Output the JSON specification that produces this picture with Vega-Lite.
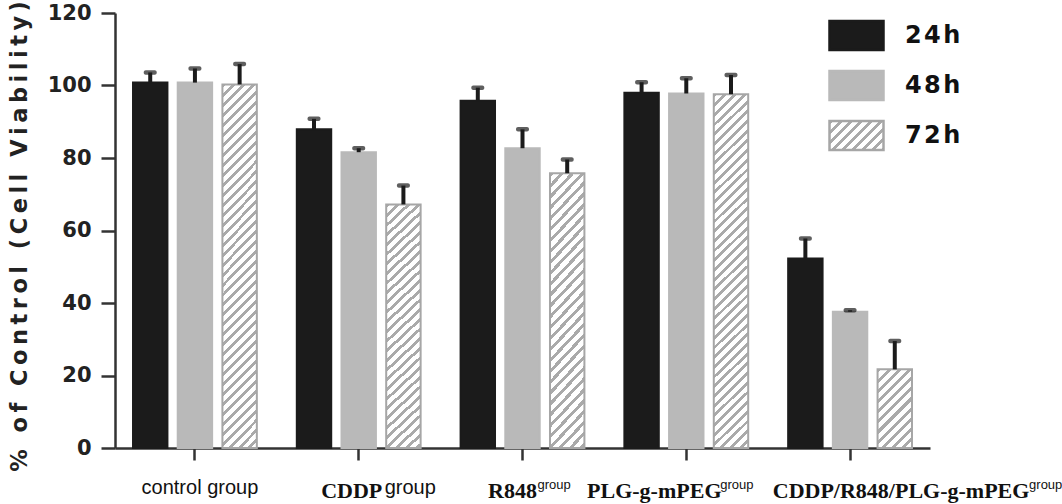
{
"$schema":"https://vega.github.io/schema/vega-lite/v6.json",
"width":815,"height":435,
"autosize":{"type":"none"},
"padding":{"left":115,"top":13,"right":132,"bottom":56},
"config":{"view":{"stroke":null},"axis":{"grid":false}},
"data":{"values":[
{"group":"control group","time":"24h","value":100.8,"upper":103.6},
{"group":"control group","time":"48h","value":100.8,"upper":104.7},
{"group":"control group","time":"72h","value":100.3,"upper":105.9},
{"group":"CDDP","time":"24h","value":87.9,"upper":90.8},
{"group":"CDDP","time":"48h","value":81.6,"upper":82.7},
{"group":"CDDP","time":"72h","value":67.2,"upper":72.4},
{"group":"R848","time":"24h","value":95.8,"upper":99.4},
{"group":"R848","time":"48h","value":82.7,"upper":87.9},
{"group":"R848","time":"72h","value":75.8,"upper":79.6},
{"group":"PLG-g-mPEG","time":"24h","value":98.0,"upper":100.9},
{"group":"PLG-g-mPEG","time":"48h","value":97.8,"upper":102.0},
{"group":"PLG-g-mPEG","time":"72h","value":97.6,"upper":102.9},
{"group":"CDDP/R848/PLG-g-mPEG","time":"24h","value":52.3,"upper":57.8},
{"group":"CDDP/R848/PLG-g-mPEG","time":"48h","value":37.6,"upper":38.0},
{"group":"CDDP/R848/PLG-g-mPEG","time":"72h","value":21.7,"upper":29.5}
]},
"resolve":{"axis":{"x":"independent"}},
"layer":[
{"mark":{"type":"bar","strokeWidth":2},
"encoding":{
"x":{"field":"group","type":"nominal","scale":{"domain":["control group","CDDP","R848","PLG-g-mPEG","CDDP/R848/PLG-g-mPEG"],"paddingInner":0.244,"paddingOuter":0.11},
"axis":{"orient":"bottom","title":null,"labelColor":"#111","labelAngle":0,"labelBaseline":"alphabetic","labelLimit":0,"labelOverlap":false,"labelFlush":false,"tickSize":12,"tickWidth":2.5,"tickColor":"#333","domainWidth":2.5,"domainColor":"#333",
"labelPadding":{"condition":{"test":"datum.value === 'control group'","value":33},"value":37},
"labelFont":{"condition":{"test":"datum.value === 'control group'","value":"Liberation Sans"},"value":"Liberation Serif"},
"labelFontWeight":{"condition":{"test":"datum.value === 'control group'","value":"normal"},"value":"bold"},
"labelFontSize":{"condition":{"test":"datum.value === 'control group'","value":20},"value":22},
"labelOffset":{"condition":[{"test":"datum.value === 'control group'","value":5},{"test":"datum.value === 'CDDP'","value":-7},{"test":"datum.value === 'R848'","value":-10},{"test":"datum.value === 'PLG-g-mPEG'","value":-32}],"value":51}}},
"xOffset":{"field":"time","type":"nominal","scale":{"domain":["24h","48h","72h"],"paddingInner":0.23,"paddingOuter":0}},
"y":{"field":"value","type":"quantitative","title":"%\u2009 \u2009o\u2009f\u2009 \u2009C\u2009o\u2009n\u2009t\u2009r\u2009o\u2009l\u2009 \u2009(\u2009C\u2009e\u2009l\u2009l\u2009 \u2009V\u2009i\u2009a\u2009b\u2009i\u2009l\u2009i\u2009t\u2009y\u2009)","scale":{"domain":[0,120],"nice":false},
"axis":{"values":[0,20,40,60,80,100,120],"labelFont":"DejaVu Sans","labelFontSize":21,"labelFontWeight":"bold","labelColor":"#222","labelPadding":10,"tickSize":14,"tickWidth":2.5,"tickColor":"#333","domainWidth":2.5,"domainColor":"#333","titleFont":"DejaVu Sans","titleFontSize":22.5,"titleFontWeight":"bold","titleColor":"#222","titleAngle":-90,"titleX":-89,"titleY":223,"titleAlign":"center","titleBaseline":"alphabetic"}},
"stroke":{"field":"time","type":"nominal","scale":{"domain":["24h","48h","72h"],"range":["#1b1b1b","#b9b9b9","#a6a6a6"]}},
"color":{
"condition":[
{"test":"datum.time === '72h' && (datum.group === 'control group' || datum.group === 'PLG-g-mPEG')","value":{"gradient":"linear","x1":0,"y1":0,"x2":0.1041,"y2":1.0859,"stops":[
{"offset":0,"color":"#aaa"},{"offset":0.01,"color":"#aaa"},{"offset":0.01,"color":"#fff"},{"offset":0.025,"color":"#fff"},
{"offset":0.025,"color":"#aaa"},{"offset":0.035,"color":"#aaa"},{"offset":0.035,"color":"#fff"},{"offset":0.05,"color":"#fff"},
{"offset":0.05,"color":"#aaa"},{"offset":0.06,"color":"#aaa"},{"offset":0.06,"color":"#fff"},{"offset":0.075,"color":"#fff"},
{"offset":0.075,"color":"#aaa"},{"offset":0.085,"color":"#aaa"},{"offset":0.085,"color":"#fff"},{"offset":0.1,"color":"#fff"},
{"offset":0.1,"color":"#aaa"},{"offset":0.11,"color":"#aaa"},{"offset":0.11,"color":"#fff"},{"offset":0.125,"color":"#fff"},
{"offset":0.125,"color":"#aaa"},{"offset":0.135,"color":"#aaa"},{"offset":0.135,"color":"#fff"},{"offset":0.15,"color":"#fff"},
{"offset":0.15,"color":"#aaa"},{"offset":0.16,"color":"#aaa"},{"offset":0.16,"color":"#fff"},{"offset":0.175,"color":"#fff"},
{"offset":0.175,"color":"#aaa"},{"offset":0.185,"color":"#aaa"},{"offset":0.185,"color":"#fff"},{"offset":0.2,"color":"#fff"},
{"offset":0.2,"color":"#aaa"},{"offset":0.21,"color":"#aaa"},{"offset":0.21,"color":"#fff"},{"offset":0.225,"color":"#fff"},
{"offset":0.225,"color":"#aaa"},{"offset":0.235,"color":"#aaa"},{"offset":0.235,"color":"#fff"},{"offset":0.25,"color":"#fff"},
{"offset":0.25,"color":"#aaa"},{"offset":0.26,"color":"#aaa"},{"offset":0.26,"color":"#fff"},{"offset":0.275,"color":"#fff"},
{"offset":0.275,"color":"#aaa"},{"offset":0.285,"color":"#aaa"},{"offset":0.285,"color":"#fff"},{"offset":0.3,"color":"#fff"},
{"offset":0.3,"color":"#aaa"},{"offset":0.31,"color":"#aaa"},{"offset":0.31,"color":"#fff"},{"offset":0.325,"color":"#fff"},
{"offset":0.325,"color":"#aaa"},{"offset":0.335,"color":"#aaa"},{"offset":0.335,"color":"#fff"},{"offset":0.35,"color":"#fff"},
{"offset":0.35,"color":"#aaa"},{"offset":0.36,"color":"#aaa"},{"offset":0.36,"color":"#fff"},{"offset":0.375,"color":"#fff"},
{"offset":0.375,"color":"#aaa"},{"offset":0.385,"color":"#aaa"},{"offset":0.385,"color":"#fff"},{"offset":0.4,"color":"#fff"},
{"offset":0.4,"color":"#aaa"},{"offset":0.41,"color":"#aaa"},{"offset":0.41,"color":"#fff"},{"offset":0.425,"color":"#fff"},
{"offset":0.425,"color":"#aaa"},{"offset":0.435,"color":"#aaa"},{"offset":0.435,"color":"#fff"},{"offset":0.45,"color":"#fff"},
{"offset":0.45,"color":"#aaa"},{"offset":0.46,"color":"#aaa"},{"offset":0.46,"color":"#fff"},{"offset":0.475,"color":"#fff"},
{"offset":0.475,"color":"#aaa"},{"offset":0.485,"color":"#aaa"},{"offset":0.485,"color":"#fff"},{"offset":0.5,"color":"#fff"},
{"offset":0.5,"color":"#aaa"},{"offset":0.51,"color":"#aaa"},{"offset":0.51,"color":"#fff"},{"offset":0.525,"color":"#fff"},
{"offset":0.525,"color":"#aaa"},{"offset":0.535,"color":"#aaa"},{"offset":0.535,"color":"#fff"},{"offset":0.55,"color":"#fff"},
{"offset":0.55,"color":"#aaa"},{"offset":0.56,"color":"#aaa"},{"offset":0.56,"color":"#fff"},{"offset":0.575,"color":"#fff"},
{"offset":0.575,"color":"#aaa"},{"offset":0.585,"color":"#aaa"},{"offset":0.585,"color":"#fff"},{"offset":0.6,"color":"#fff"},
{"offset":0.6,"color":"#aaa"},{"offset":0.61,"color":"#aaa"},{"offset":0.61,"color":"#fff"},{"offset":0.625,"color":"#fff"},
{"offset":0.625,"color":"#aaa"},{"offset":0.635,"color":"#aaa"},{"offset":0.635,"color":"#fff"},{"offset":0.65,"color":"#fff"},
{"offset":0.65,"color":"#aaa"},{"offset":0.66,"color":"#aaa"},{"offset":0.66,"color":"#fff"},{"offset":0.675,"color":"#fff"},
{"offset":0.675,"color":"#aaa"},{"offset":0.685,"color":"#aaa"},{"offset":0.685,"color":"#fff"},{"offset":0.7,"color":"#fff"},
{"offset":0.7,"color":"#aaa"},{"offset":0.71,"color":"#aaa"},{"offset":0.71,"color":"#fff"},{"offset":0.725,"color":"#fff"},
{"offset":0.725,"color":"#aaa"},{"offset":0.735,"color":"#aaa"},{"offset":0.735,"color":"#fff"},{"offset":0.75,"color":"#fff"},
{"offset":0.75,"color":"#aaa"},{"offset":0.76,"color":"#aaa"},{"offset":0.76,"color":"#fff"},{"offset":0.775,"color":"#fff"},
{"offset":0.775,"color":"#aaa"},{"offset":0.785,"color":"#aaa"},{"offset":0.785,"color":"#fff"},{"offset":0.8,"color":"#fff"},
{"offset":0.8,"color":"#aaa"},{"offset":0.81,"color":"#aaa"},{"offset":0.81,"color":"#fff"},{"offset":0.825,"color":"#fff"},
{"offset":0.825,"color":"#aaa"},{"offset":0.835,"color":"#aaa"},{"offset":0.835,"color":"#fff"},{"offset":0.85,"color":"#fff"},
{"offset":0.85,"color":"#aaa"},{"offset":0.86,"color":"#aaa"},{"offset":0.86,"color":"#fff"},{"offset":0.875,"color":"#fff"},
{"offset":0.875,"color":"#aaa"},{"offset":0.885,"color":"#aaa"},{"offset":0.885,"color":"#fff"},{"offset":0.9,"color":"#fff"},
{"offset":0.9,"color":"#aaa"},{"offset":0.91,"color":"#aaa"},{"offset":0.91,"color":"#fff"},{"offset":0.925,"color":"#fff"},
{"offset":0.925,"color":"#aaa"},{"offset":0.935,"color":"#aaa"},{"offset":0.935,"color":"#fff"},{"offset":0.95,"color":"#fff"},
{"offset":0.95,"color":"#aaa"},{"offset":0.96,"color":"#aaa"},{"offset":0.96,"color":"#fff"},{"offset":0.975,"color":"#fff"},
{"offset":0.975,"color":"#aaa"},{"offset":0.985,"color":"#aaa"},{"offset":0.985,"color":"#fff"},{"offset":1,"color":"#fff"}]}},
{"test":"datum.time === '72h' && (datum.group === 'CDDP' || datum.group === 'R848')","value":{"gradient":"linear","x1":0,"y1":0,"x2":0.1477,"y2":1.1131,"stops":[
{"offset":0,"color":"#aaa"},{"offset":0.014,"color":"#aaa"},{"offset":0.014,"color":"#fff"},{"offset":0.035,"color":"#fff"},
{"offset":0.035,"color":"#aaa"},{"offset":0.049,"color":"#aaa"},{"offset":0.049,"color":"#fff"},{"offset":0.07,"color":"#fff"},
{"offset":0.07,"color":"#aaa"},{"offset":0.084,"color":"#aaa"},{"offset":0.084,"color":"#fff"},{"offset":0.105,"color":"#fff"},
{"offset":0.105,"color":"#aaa"},{"offset":0.119,"color":"#aaa"},{"offset":0.119,"color":"#fff"},{"offset":0.14,"color":"#fff"},
{"offset":0.14,"color":"#aaa"},{"offset":0.154,"color":"#aaa"},{"offset":0.154,"color":"#fff"},{"offset":0.175,"color":"#fff"},
{"offset":0.175,"color":"#aaa"},{"offset":0.189,"color":"#aaa"},{"offset":0.189,"color":"#fff"},{"offset":0.21,"color":"#fff"},
{"offset":0.21,"color":"#aaa"},{"offset":0.224,"color":"#aaa"},{"offset":0.224,"color":"#fff"},{"offset":0.245,"color":"#fff"},
{"offset":0.245,"color":"#aaa"},{"offset":0.259,"color":"#aaa"},{"offset":0.259,"color":"#fff"},{"offset":0.28,"color":"#fff"},
{"offset":0.28,"color":"#aaa"},{"offset":0.294,"color":"#aaa"},{"offset":0.294,"color":"#fff"},{"offset":0.315,"color":"#fff"},
{"offset":0.315,"color":"#aaa"},{"offset":0.329,"color":"#aaa"},{"offset":0.329,"color":"#fff"},{"offset":0.35,"color":"#fff"},
{"offset":0.35,"color":"#aaa"},{"offset":0.364,"color":"#aaa"},{"offset":0.364,"color":"#fff"},{"offset":0.385,"color":"#fff"},
{"offset":0.385,"color":"#aaa"},{"offset":0.399,"color":"#aaa"},{"offset":0.399,"color":"#fff"},{"offset":0.42,"color":"#fff"},
{"offset":0.42,"color":"#aaa"},{"offset":0.434,"color":"#aaa"},{"offset":0.434,"color":"#fff"},{"offset":0.455,"color":"#fff"},
{"offset":0.455,"color":"#aaa"},{"offset":0.469,"color":"#aaa"},{"offset":0.469,"color":"#fff"},{"offset":0.49,"color":"#fff"},
{"offset":0.49,"color":"#aaa"},{"offset":0.504,"color":"#aaa"},{"offset":0.504,"color":"#fff"},{"offset":0.525,"color":"#fff"},
{"offset":0.525,"color":"#aaa"},{"offset":0.539,"color":"#aaa"},{"offset":0.539,"color":"#fff"},{"offset":0.56,"color":"#fff"},
{"offset":0.56,"color":"#aaa"},{"offset":0.574,"color":"#aaa"},{"offset":0.574,"color":"#fff"},{"offset":0.595,"color":"#fff"},
{"offset":0.595,"color":"#aaa"},{"offset":0.609,"color":"#aaa"},{"offset":0.609,"color":"#fff"},{"offset":0.63,"color":"#fff"},
{"offset":0.63,"color":"#aaa"},{"offset":0.644,"color":"#aaa"},{"offset":0.644,"color":"#fff"},{"offset":0.665,"color":"#fff"},
{"offset":0.665,"color":"#aaa"},{"offset":0.679,"color":"#aaa"},{"offset":0.679,"color":"#fff"},{"offset":0.7,"color":"#fff"},
{"offset":0.7,"color":"#aaa"},{"offset":0.714,"color":"#aaa"},{"offset":0.714,"color":"#fff"},{"offset":0.735,"color":"#fff"},
{"offset":0.735,"color":"#aaa"},{"offset":0.749,"color":"#aaa"},{"offset":0.749,"color":"#fff"},{"offset":0.77,"color":"#fff"},
{"offset":0.77,"color":"#aaa"},{"offset":0.784,"color":"#aaa"},{"offset":0.784,"color":"#fff"},{"offset":0.805,"color":"#fff"},
{"offset":0.805,"color":"#aaa"},{"offset":0.819,"color":"#aaa"},{"offset":0.819,"color":"#fff"},{"offset":0.84,"color":"#fff"},
{"offset":0.84,"color":"#aaa"},{"offset":0.854,"color":"#aaa"},{"offset":0.854,"color":"#fff"},{"offset":0.875,"color":"#fff"},
{"offset":0.875,"color":"#aaa"},{"offset":0.889,"color":"#aaa"},{"offset":0.889,"color":"#fff"},{"offset":0.91,"color":"#fff"},
{"offset":0.91,"color":"#aaa"},{"offset":0.924,"color":"#aaa"},{"offset":0.924,"color":"#fff"},{"offset":0.945,"color":"#fff"},
{"offset":0.945,"color":"#aaa"},{"offset":0.959,"color":"#aaa"},{"offset":0.959,"color":"#fff"},{"offset":0.98,"color":"#fff"},
{"offset":0.98,"color":"#aaa"},{"offset":0.994,"color":"#aaa"},{"offset":0.994,"color":"#fff"},{"offset":1,"color":"#fff"}]}},
{"test":"datum.time === '72h'","value":{"gradient":"linear","x1":0,"y1":0,"x2":0.5274,"y2":1.2066,"stops":[
{"offset":0,"color":"#aaa"},{"offset":0.036,"color":"#aaa"},{"offset":0.036,"color":"#fff"},{"offset":0.09,"color":"#fff"},
{"offset":0.09,"color":"#aaa"},{"offset":0.126,"color":"#aaa"},{"offset":0.126,"color":"#fff"},{"offset":0.18,"color":"#fff"},
{"offset":0.18,"color":"#aaa"},{"offset":0.216,"color":"#aaa"},{"offset":0.216,"color":"#fff"},{"offset":0.27,"color":"#fff"},
{"offset":0.27,"color":"#aaa"},{"offset":0.306,"color":"#aaa"},{"offset":0.306,"color":"#fff"},{"offset":0.36,"color":"#fff"},
{"offset":0.36,"color":"#aaa"},{"offset":0.396,"color":"#aaa"},{"offset":0.396,"color":"#fff"},{"offset":0.45,"color":"#fff"},
{"offset":0.45,"color":"#aaa"},{"offset":0.486,"color":"#aaa"},{"offset":0.486,"color":"#fff"},{"offset":0.54,"color":"#fff"},
{"offset":0.54,"color":"#aaa"},{"offset":0.576,"color":"#aaa"},{"offset":0.576,"color":"#fff"},{"offset":0.63,"color":"#fff"},
{"offset":0.63,"color":"#aaa"},{"offset":0.666,"color":"#aaa"},{"offset":0.666,"color":"#fff"},{"offset":0.72,"color":"#fff"},
{"offset":0.72,"color":"#aaa"},{"offset":0.756,"color":"#aaa"},{"offset":0.756,"color":"#fff"},{"offset":0.81,"color":"#fff"},
{"offset":0.81,"color":"#aaa"},{"offset":0.846,"color":"#aaa"},{"offset":0.846,"color":"#fff"},{"offset":0.9,"color":"#fff"},
{"offset":0.9,"color":"#aaa"},{"offset":0.936,"color":"#aaa"},{"offset":0.936,"color":"#fff"},{"offset":0.99,"color":"#fff"},
{"offset":0.99,"color":"#aaa"},{"offset":1,"color":"#aaa"}]}}
],
"field":"time","type":"nominal",
"scale":{"domain":["24h","48h","72h"],"range":["#1b1b1b","#b9b9b9",{"expr":"{gradient: 'linear', x1: 0, y1: 0, x2: 1.193, y2: 0.6407, stops: [{offset: 0, color: '#aaa'}, {offset: 0.048, color: '#aaa'}, {offset: 0.048, color: '#fff'}, {offset: 0.12, color: '#fff'}, {offset: 0.12, color: '#aaa'}, {offset: 0.168, color: '#aaa'}, {offset: 0.168, color: '#fff'}, {offset: 0.24, color: '#fff'}, {offset: 0.24, color: '#aaa'}, {offset: 0.288, color: '#aaa'}, {offset: 0.288, color: '#fff'}, {offset: 0.36, color: '#fff'}, {offset: 0.36, color: '#aaa'}, {offset: 0.408, color: '#aaa'}, {offset: 0.408, color: '#fff'}, {offset: 0.48, color: '#fff'}, {offset: 0.48, color: '#aaa'}, {offset: 0.528, color: '#aaa'}, {offset: 0.528, color: '#fff'}, {offset: 0.6, color: '#fff'}, {offset: 0.6, color: '#aaa'}, {offset: 0.648, color: '#aaa'}, {offset: 0.648, color: '#fff'}, {offset: 0.72, color: '#fff'}, {offset: 0.72, color: '#aaa'}, {offset: 0.768, color: '#aaa'}, {offset: 0.768, color: '#fff'}, {offset: 0.84, color: '#fff'}, {offset: 0.84, color: '#aaa'}, {offset: 0.888, color: '#aaa'}, {offset: 0.888, color: '#fff'}, {offset: 0.96, color: '#fff'}, {offset: 0.96, color: '#aaa'}, {offset: 1, color: '#aaa'}]}"}]},
"legend":{"title":null,"orient":"none","legendX":713,"legendY":-6,
"symbolType":"M-1,-0.54H1V0.54H-1Z","symbolSize":2916,"symbolStrokeWidth":2.5,"rowPadding":1,"labelOffset":20,
"labelFont":"DejaVu Sans","labelFontSize":24,"labelFontWeight":"bold","labelColor":"#111",
"labelExpr":"datum.label === '24h' ? '2\u200a4\u200ah' : datum.label === '48h' ? '4\u200a8\u200ah' : '7\u200a2\u200ah'"}
}}},
{"mark":{"type":"rule","color":"#1b1b1b","strokeWidth":4},
"encoding":{
"x":{"field":"group","type":"nominal","scale":{"domain":["control group","CDDP","R848","PLG-g-mPEG","CDDP/R848/PLG-g-mPEG"],"paddingInner":0.244,"paddingOuter":0.11},
"axis":{"orient":"bottom","title":null,"domain":false,"ticks":false,"labelExpr":"datum.value === 'control group' ? '' : 'group'","labelFont":"Liberation Sans","labelColor":"#111","labelAngle":0,"labelAlign":"left","labelBaseline":"alphabetic","labelLimit":0,"labelOverlap":false,"labelFlush":false,
"labelPadding":{"condition":{"test":"datum.value === 'CDDP'","value":45},"value":40},
"labelFontSize":{"condition":{"test":"datum.value === 'CDDP'","value":20},"value":13},
"labelOffset":{"condition":[{"test":"datum.value === 'CDDP'","value":26},{"test":"datum.value === 'R848'","value":15},{"test":"datum.value === 'PLG-g-mPEG'","value":34}],"value":179}}},
"xOffset":{"field":"time","type":"nominal","scale":{"domain":["24h","48h","72h"],"paddingInner":0.23,"paddingOuter":0}},
"y":{"field":"value","type":"quantitative","title":"%\u2009 \u2009o\u2009f\u2009 \u2009C\u2009o\u2009n\u2009t\u2009r\u2009o\u2009l\u2009 \u2009(\u2009C\u2009e\u2009l\u2009l\u2009 \u2009V\u2009i\u2009a\u2009b\u2009i\u2009l\u2009i\u2009t\u2009y\u2009)"},
"y2":{"field":"upper"}}},
{"mark":{"type":"tick","color":"#1b1b1b","thickness":4.5,"size":13,"cornerRadius":2},
"encoding":{
"x":{"field":"group","type":"nominal","axis":null,"scale":{"domain":["control group","CDDP","R848","PLG-g-mPEG","CDDP/R848/PLG-g-mPEG"],"paddingInner":0.244,"paddingOuter":0.11}},
"xOffset":{"field":"time","type":"nominal","scale":{"domain":["24h","48h","72h"],"paddingInner":0.23,"paddingOuter":0}},
"y":{"field":"upper","type":"quantitative","title":"%\u2009 \u2009o\u2009f\u2009 \u2009C\u2009o\u2009n\u2009t\u2009r\u2009o\u2009l\u2009 \u2009(\u2009C\u2009e\u2009l\u2009l\u2009 \u2009V\u2009i\u2009a\u2009b\u2009i\u2009l\u2009i\u2009t\u2009y\u2009)"}}}
]
}
